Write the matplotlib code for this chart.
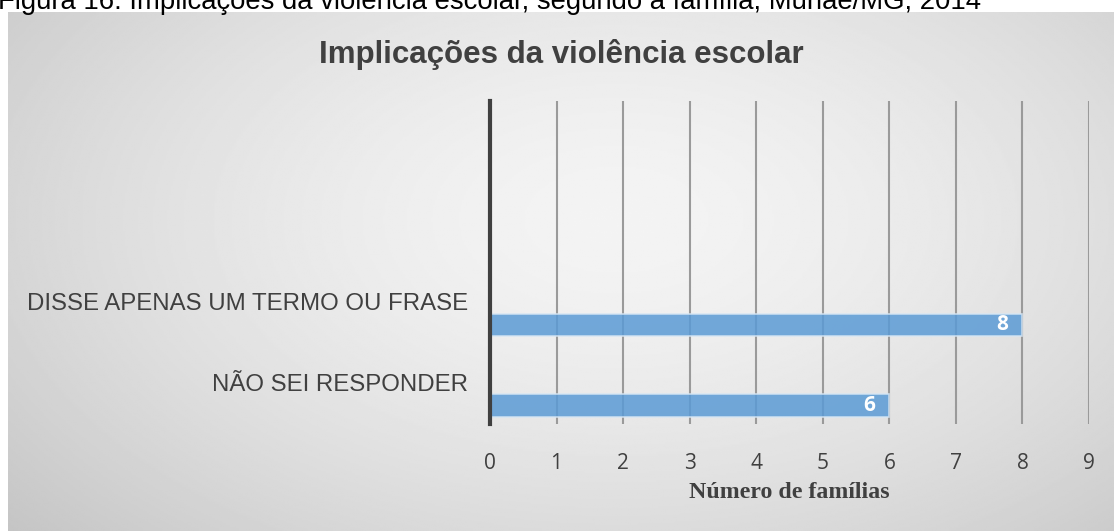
import numpy as np
import matplotlib.pyplot as plt

categorias = ['NÃO SEI RESPONDER', 'DISSE APENAS UM TERMO OU FRASE']
familias = [6, 8]
ticks_x = list(range(0, 10))

W, H = 1114, 531
fig = plt.figure(figsize=(W / 100, H / 100), dpi=100)
fig.patch.set_facecolor('white')

# fundo com gradiente radial
bg = fig.add_axes([8 / W, 0, (W - 8) / W, (H - 12) / H])
yy, xx = np.mgrid[0:1:300j, 0:1:600j]
r = np.sqrt(((xx - 0.55) / 0.72) ** 2 + ((yy - 0.6) / 0.9) ** 2)
img = 0.955 - 0.18 * np.clip(r, 0, 1.2) ** 1.6
bg.imshow(img, cmap='gray', vmin=0, vmax=1, aspect='auto', extent=[0, 1, 0, 1], origin='lower')
bg.axis('off')

fig.text(-0.002, 1 - 9 / H, 'Figura 16: Implicações da violência escolar, segundo a família, Muriaé/MG, 2014',
         fontsize=19.8, family='Liberation Sans', color='#000000', va='baseline', ha='left')

ax = fig.add_axes([490 / W, 1 - 424 / H, (1089 - 490) / W, 323 / H])
ax.patch.set_alpha(0)
pos = np.arange(len(categorias))
ax.barh(pos - 0.29, familias, height=0.28, color='#5b9bd5', alpha=0.85,
        edgecolor='#d6e6f4', linewidth=1.2, zorder=3)
for p, v in zip(pos, familias):
    ax.text(v - 0.22, p - 0.29, str(v), color='white', fontsize=15, fontweight='bold',
            family='Open Sans', ha='right', va='center', zorder=4)

ax.set_xlim(0, 9)
ax.set_ylim(-0.52, 3.49)
ax.set_xticks(ticks_x)
ax.set_xticklabels([str(t) for t in ticks_x], fontsize=15, color='#404040', family='Open Sans')
ax.set_yticks(pos)
ax.set_yticklabels(categorias, fontsize=17.3, color='#404040', family='Liberation Sans')
ax.tick_params(axis='both', length=0)
ax.tick_params(axis='x', pad=21)
ax.tick_params(axis='y', pad=16)
ax.grid(axis='x', color='#9a9a9a', linewidth=1.5, zorder=1)
for s in ['top', 'right', 'bottom']:
    ax.spines[s].set_visible(False)
ax.spines['left'].set_color('#404040')
ax.spines['left'].set_linewidth(3)
ax.spines['left'].set_zorder(5)

ax.set_xlabel('Número de famílias', fontsize=17.2, fontweight='bold', family='Liberation Serif',
              color='#404040', labelpad=6)
fig.text(561 / W, 1 - 55 / H, 'Implicações da violência escolar', fontsize=22.5, fontweight='bold',
         family='Liberation Sans', color='#404040', ha='center', va='center')

plt.savefig('out.png', dpi=100)
